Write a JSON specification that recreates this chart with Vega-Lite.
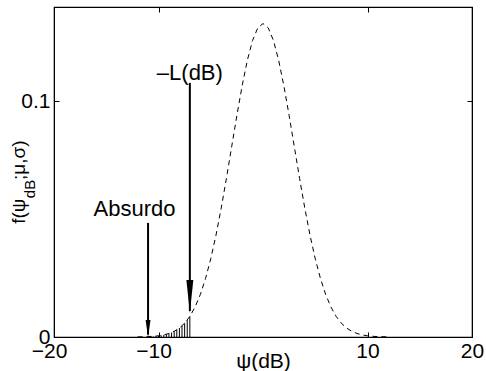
{
  "$schema": "https://vega.github.io/schema/vega-lite/v6.json",
  "width": 418,
  "height": 330,
  "autosize": {"type": "none"},
  "padding": {"left": 54, "top": 7, "right": 14, "bottom": 34},
  "background": "white",
  "config": {
    "view": {"stroke": "black", "strokeWidth": 1.2},
    "font": "Liberation Sans",
    "axis": {
      "grid": false,
      "domainColor": "black",
      "tickColor": "black",
      "labelColor": "black",
      "labelFont": "Liberation Sans",
      "labelFontSize": 21,
      "labelFlush": false,
      "labelOverlap": false,
      "titleFont": "Liberation Sans",
      "titleFontSize": 21,
      "titleFontWeight": "normal",
      "titleColor": "black",
      "tickSize": -5,
      "tickWidth": 1
    }
  },
  "datasets": {
    "curve": [
      {"x": -12, "f": 0.0000446}, {"x": -11, "f": 0.00016}, {"x": -10.5, "f": 0.000291}, {"x": -10, "f": 0.000514},
      {"x": -9.5, "f": 0.000884}, {"x": -9, "f": 0.00148}, {"x": -8.5, "f": 0.0024}, {"x": -8, "f": 0.0038},
      {"x": -7.5, "f": 0.00584}, {"x": -7, "f": 0.00874}, {"x": -6.5, "f": 0.01272}, {"x": -6, "f": 0.018},
      {"x": -5.5, "f": 0.02477}, {"x": -5, "f": 0.03316}, {"x": -4.5, "f": 0.04317}, {"x": -4, "f": 0.05467},
      {"x": -3.5, "f": 0.06733}, {"x": -3, "f": 0.08066}, {"x": -2.5, "f": 0.09397}, {"x": -2, "f": 0.10648},
      {"x": -1.5, "f": 0.11736}, {"x": -1, "f": 0.12579}, {"x": -0.5, "f": 0.13115}, {"x": 0, "f": 0.13298},
      {"x": 0.5, "f": 0.13115}, {"x": 1, "f": 0.12579}, {"x": 1.5, "f": 0.11736}, {"x": 2, "f": 0.10648},
      {"x": 2.5, "f": 0.09397}, {"x": 3, "f": 0.08066}, {"x": 3.5, "f": 0.06733}, {"x": 4, "f": 0.05467},
      {"x": 4.5, "f": 0.04317}, {"x": 5, "f": 0.03316}, {"x": 5.5, "f": 0.02477}, {"x": 6, "f": 0.018},
      {"x": 6.5, "f": 0.01272}, {"x": 7, "f": 0.00874}, {"x": 7.5, "f": 0.00584}, {"x": 8, "f": 0.0038},
      {"x": 8.5, "f": 0.0024}, {"x": 9, "f": 0.00148}, {"x": 9.5, "f": 0.000884}, {"x": 10, "f": 0.000514},
      {"x": 10.5, "f": 0.000291}, {"x": 11, "f": 0.00016}, {"x": 12, "f": 0.0000446}
    ],
    "hatch": [
      {"x": -10.75, "f": 0.000217}, {"x": -10.5, "f": 0.000291}, {"x": -10.25, "f": 0.000388}, {"x": -10, "f": 0.000514},
      {"x": -9.75, "f": 0.000676}, {"x": -9.5, "f": 0.000884}, {"x": -9.25, "f": 0.001147}, {"x": -9, "f": 0.00148},
      {"x": -8.75, "f": 0.00189}, {"x": -8.5, "f": 0.0024}, {"x": -8.25, "f": 0.00303}, {"x": -8, "f": 0.0038},
      {"x": -7.75, "f": 0.00473}, {"x": -7.5, "f": 0.00584}, {"x": -7.25, "f": 0.00717}, {"x": -7, "f": 0.00874}
    ],
    "notes": [
      {"label": "–L(dB)", "x": -7.0, "tx": -7.0, "ty": 0.109, "top": 0.1078, "tip": 0.011, "head": 0.0172},
      {"label": "Absurdo", "x": -11.0, "tx": -12.3, "ty": 0.0513, "top": 0.0484, "tip": 0.001, "head": 0.0036}
    ],
    "ytitle": [
      {"part": "f(ψ", "x": -22.8, "y": 0.0480, "sub": false},
      {"part": "dB", "x": -21.8, "y": 0.0589, "sub": true},
      {"part": ";μ,σ)", "x": -22.8, "y": 0.0666, "sub": false}
    ]
  },
  "layer": [
    {
      "data": {"name": "curve"},
      "mark": {"type": "line", "color": "black", "strokeWidth": 1, "strokeDash": [5, 4]},
      "encoding": {
        "x": {
          "field": "x", "type": "quantitative",
          "scale": {"domain": [-20, 20], "nice": false, "zero": false},
          "axis": {
            "orient": "bottom", "values": [-20, -10, 10, 20], "format": "d", "labelPadding": 8,
            "labelOffset": {"condition": {"test": "datum.value < 0", "value": -5}, "value": 0},
            "title": "ψ(dB)", "titleY": 30, "titleBaseline": "alphabetic"
          }
        },
        "y": {
          "field": "f", "type": "quantitative",
          "scale": {"domain": [0, 0.14], "nice": false},
          "axis": {"orient": "left", "values": [0, 0.1], "format": "~g", "labelPadding": 9, "title": null}
        }
      }
    },
    {
      "data": {"name": "curve"},
      "mark": {"type": "line", "opacity": 0},
      "encoding": {
        "x": {
          "field": "x", "type": "quantitative",
          "axis": {"orient": "top", "values": [-20, -10, 10, 20], "labels": false, "title": null}
        },
        "y": {
          "field": "f", "type": "quantitative",
          "axis": {"orient": "right", "values": [0, 0.1], "labels": false, "title": null}
        }
      }
    },
    {
      "data": {"name": "hatch"},
      "mark": {"type": "rule", "color": "black", "strokeWidth": 1},
      "encoding": {
        "x": {"field": "x", "type": "quantitative", "axis": null},
        "y": {"field": "f", "type": "quantitative", "axis": null},
        "y2": {"datum": 0}
      }
    },
    {
      "data": {"name": "notes"},
      "mark": {"type": "rule", "color": "black", "strokeWidth": 2},
      "encoding": {
        "x": {"field": "x", "type": "quantitative", "axis": null},
        "y": {"field": "top", "type": "quantitative", "axis": null},
        "y2": {"field": "tip"}
      }
    },
    {
      "data": {"name": "notes"},
      "transform": [{"filter": "datum.x > -8"}],
      "mark": {"type": "point", "shape": "M-0.21,-1L0.21,-1L0,1Z", "size": 1089, "filled": true, "color": "black", "opacity": 1},
      "encoding": {
        "x": {"field": "x", "type": "quantitative", "axis": null},
        "y": {"field": "head", "type": "quantitative", "axis": null}
      }
    },
    {
      "data": {"name": "notes"},
      "transform": [{"filter": "datum.x < -8"}],
      "mark": {"type": "point", "shape": "M-0.29,-1L0.29,-1L0,1Z", "size": 289, "filled": true, "color": "black", "opacity": 1},
      "encoding": {
        "x": {"field": "x", "type": "quantitative", "axis": null},
        "y": {"field": "head", "type": "quantitative", "axis": null}
      }
    },
    {
      "data": {"name": "notes"},
      "mark": {"type": "text", "fontSize": 22, "align": "center", "baseline": "alphabetic", "color": "black"},
      "encoding": {
        "x": {"field": "tx", "type": "quantitative", "axis": null},
        "y": {"field": "ty", "type": "quantitative", "axis": null},
        "text": {"field": "label"}
      }
    },
    {
      "data": {"name": "ytitle"},
      "transform": [{"filter": "!datum.sub"}],
      "mark": {"type": "text", "fontSize": 19, "angle": 270, "align": "left", "baseline": "alphabetic", "color": "black"},
      "encoding": {
        "x": {"field": "x", "type": "quantitative", "axis": null},
        "y": {"field": "y", "type": "quantitative", "axis": null},
        "text": {"field": "part"}
      }
    },
    {
      "data": {"name": "ytitle"},
      "transform": [{"filter": "datum.sub"}],
      "mark": {"type": "text", "fontSize": 15, "angle": 270, "align": "left", "baseline": "alphabetic", "color": "black"},
      "encoding": {
        "x": {"field": "x", "type": "quantitative", "axis": null},
        "y": {"field": "y", "type": "quantitative", "axis": null},
        "text": {"field": "part"}
      }
    }
  ],
  "resolve": {"axis": {"x": "independent", "y": "independent"}}
}
